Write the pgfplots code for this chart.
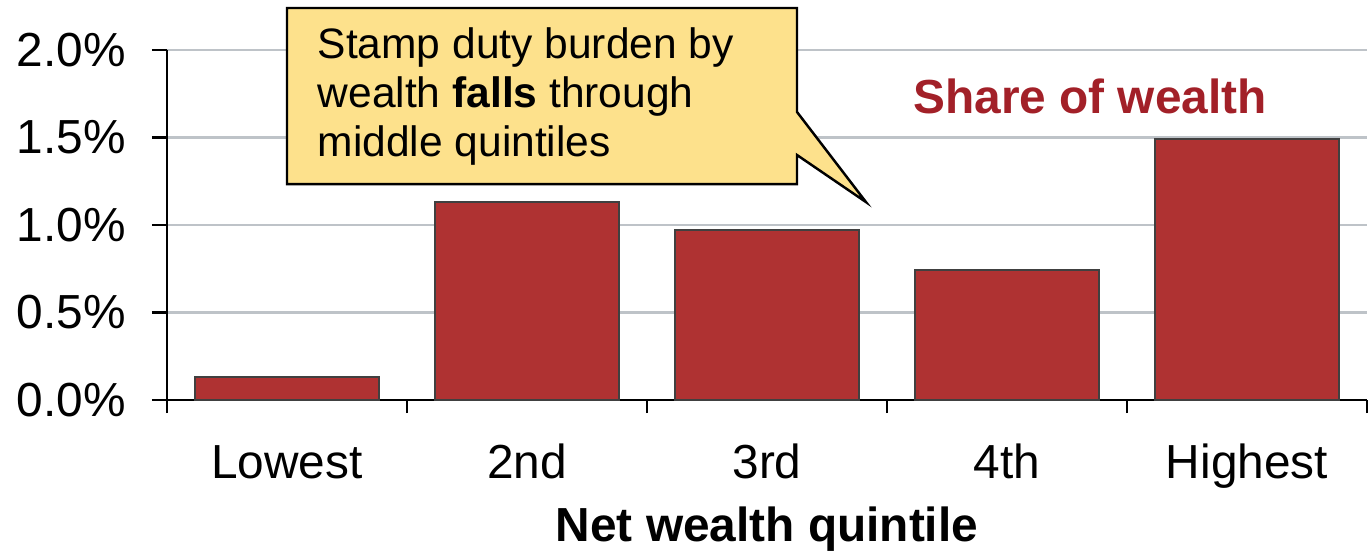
\documentclass[border=0pt]{standalone}
\usepackage{fontspec}
\setmainfont{Liberation Sans}
\usepackage{pgfplots}
\pgfplotsset{compat=1.18}
\definecolor{barred}{RGB}{175,50,50}
\definecolor{callout}{RGB}{253,225,140}
\definecolor{gridgray}{RGB}{190,195,200}
\definecolor{sharered}{RGB}{162,32,40}
\newcommand{\lbl}{\fontsize{13.6}{16}\selectfont}
\newcommand{\note}{\fontsize{12.1}{14.2}\selectfont}

\begin{document}
\begin{tikzpicture}
% 1 px of the reference = 0.1 mm
\useasboundingbox (-1.67,-1.5) rectangle (12.05,4.0);
\begin{axis}[
  at={(0,0)}, anchor=south west,
  scale only axis, width=12cm, height=3.5cm,
  xmin=-0.5, xmax=4.5, ymin=0, ymax=2,
  axis x line=bottom, axis y line=left,
  axis line style={-, line width=0.8pt},
  xtick={0,...,4}, xticklabels={Lowest,2nd,3rd,4th,Highest},
  minor xtick={-0.5,0.5,1.5,2.5,3.5,4.5},
  major x tick style={draw=none},
  minor x tick style={black, line width=0.8pt},
  major y tick style={black, line width=0.8pt},
  minor tick length=1.3mm, major tick length=1.5mm, tick align=outside,
  ytick={0,0.5,1,1.5,2}, yticklabels={0.0\%,0.5\%,1.0\%,1.5\%,2.0\%},
  ymajorgrids, grid style={gridgray, line width=0.6pt},
  ticklabel style={font=\lbl},
  xticklabel style={anchor=base, yshift=-6.3mm},
  yticklabel style={anchor=east, xshift=-1.4mm},
  xlabel={\bfseries Net wealth quintile},
  xlabel style={font=\lbl, at={(axis description cs:0.5,0)}, anchor=base, yshift=-14.1mm},
  clip=false,
]
\addplot[ybar, bar width=1.84cm, bar shift=0pt, fill=barred, draw=black!75, line width=0.5pt]
  coordinates {(0,0.131) (1,1.131) (2,0.971) (3,0.743) (4,1.491)};

% callout
\draw[fill=callout, line width=0.7pt, line join=miter]
  (axis cs:0,1.234) -- (axis cs:0,2.24) -- (axis cs:2.125,2.24) -- (axis cs:2.125,1.646)
  -- (axis cs:2.4125,1.131) -- (axis cs:2.125,1.4) -- (axis cs:2.125,1.234) -- cycle;
\node[anchor=base west, inner sep=0pt, font=\note] at (axis cs:0.125,1.954) {Stamp duty burden by};
\node[anchor=base west, inner sep=0pt, font=\note] at (axis cs:0.125,1.669) {wealth \textbf{falls} through};
\node[anchor=base west, inner sep=0pt, font=\note] at (axis cs:0.125,1.389) {middle quintiles};

\node[anchor=base, inner sep=0pt, font=\lbl\bfseries, text=sharered] at (axis cs:3.346,1.64) {Share of wealth};
\end{axis}
\end{tikzpicture}
\end{document}
